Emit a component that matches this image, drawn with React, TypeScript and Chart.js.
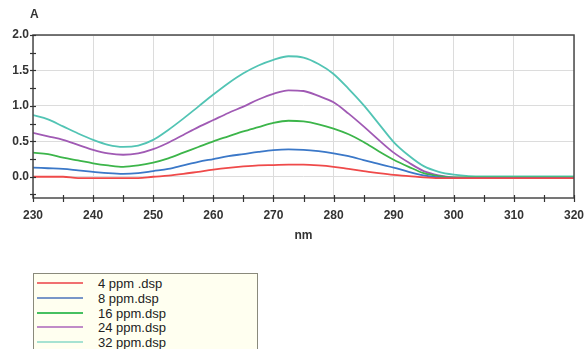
import React, { useEffect, useRef } from "react";
import { Chart, registerables } from "chart.js";

Chart.register(...registerables);

const wavelengths = [230, 232.5, 235, 237.5, 240, 242.5, 245, 247.5, 250, 252.5, 255, 257.5, 260, 262.5, 265, 267.5, 270, 272.5, 275, 277.5, 280, 282.5, 285, 287.5, 290, 292.5, 295, 297.5, 300, 302.5, 305, 310, 315, 320];

const ppm4 = [0.0, 0.0, 0.0, -0.02, -0.02, -0.02, -0.02, -0.02, 0.0, 0.015, 0.04, 0.07, 0.1, 0.125, 0.145, 0.16, 0.165, 0.17, 0.17, 0.16, 0.14, 0.11, 0.08, 0.05, 0.025, 0.01, -0.01, -0.02, -0.02, -0.02, -0.02, -0.02, -0.02, -0.02];
const ppm8 = [0.13, 0.12, 0.11, 0.09, 0.07, 0.05, 0.04, 0.05, 0.08, 0.11, 0.16, 0.21, 0.25, 0.29, 0.32, 0.35, 0.375, 0.385, 0.38, 0.36, 0.33, 0.29, 0.235, 0.18, 0.13, 0.07, 0.02, -0.01, -0.015, -0.015, -0.015, -0.015, -0.015, -0.015];
const ppm16 = [0.34, 0.32, 0.27, 0.23, 0.19, 0.16, 0.14, 0.16, 0.2, 0.26, 0.34, 0.42, 0.5, 0.57, 0.64, 0.7, 0.76, 0.79, 0.78, 0.74, 0.68, 0.6, 0.49, 0.36, 0.24, 0.14, 0.05, 0.01, -0.01, -0.01, -0.01, -0.01, -0.01, -0.01];
const ppm24 = [0.62, 0.57, 0.52, 0.45, 0.38, 0.33, 0.31, 0.33, 0.39, 0.48, 0.59, 0.7, 0.8, 0.9, 0.99, 1.09, 1.17, 1.22, 1.21, 1.14, 1.05, 0.89, 0.71, 0.52, 0.34, 0.2, 0.08, 0.02, -0.01, -0.015, -0.015, -0.015, -0.015, -0.015];
const ppm32 = [0.87, 0.81, 0.71, 0.61, 0.52, 0.45, 0.42, 0.44, 0.52, 0.66, 0.82, 0.99, 1.16, 1.32, 1.46, 1.57, 1.65, 1.7, 1.68, 1.59, 1.45, 1.24, 1.01, 0.75, 0.49, 0.3, 0.15, 0.07, 0.03, 0.01, 0.005, 0.005, 0.005, 0.005];

const seriesNames = ["4 ppm .dsp", "8 ppm.dsp", "16 ppm.dsp", "24 ppm.dsp", "32 ppm.dsp"];
const seriesValues = [ppm4, ppm8, ppm16, ppm24, ppm32];
const seriesColors = ["#ef4a4a", "#3b78c8", "#3cb54a", "#a05ab4", "#52c4b4"];
const legendColors = ["#f07070", "#7896c8", "#46c060", "#c08cc8", "#a6e2d2"];

const yLabelTicks = [0, 0.5, 1.0, 1.5, 2.0];
const yTickMarks = [-0.25, 0, 0.25, 0.5, 0.75, 1.0, 1.25, 1.5, 1.75, 2.0];
const xLabelTicks = [230, 240, 250, 260, 270, 280, 290, 300, 310, 320];
const xTickMarks = [230, 235, 240, 245, 250, 255, 260, 265, 270, 275, 280, 285, 290, 295, 300, 305, 310, 315, 320];

const FONT = '"Liberation Sans", Arial, sans-serif';

const decor = {
  id: "decor",
  afterDraw(chart: any) {
    const { ctx, chartArea: a, scales } = chart;
    const x = scales.x;
    const y = scales.y;
    ctx.save();
    ctx.strokeStyle = "#4a4a4a";
    ctx.lineWidth = 1.5;
    ctx.strokeRect(a.left, a.top, a.right - a.left, a.bottom - a.top);
    ctx.strokeStyle = "#333";
    ctx.lineWidth = 1.2;
    for (const v of yTickMarks) {
      const py = Math.round(y.getPixelForValue(v)) + 0.5;
      ctx.beginPath();
      ctx.moveTo(a.left - 3, py);
      ctx.lineTo(a.left + 3, py);
      ctx.stroke();
    }
    for (const v of xTickMarks) {
      const px = Math.round(x.getPixelForValue(v)) + 0.5;
      ctx.beginPath();
      ctx.moveTo(px, a.bottom - 3);
      ctx.lineTo(px, a.bottom + 4);
      ctx.stroke();
    }
    ctx.fillStyle = "#333";
    ctx.font = "bold 12px " + FONT;
    ctx.textAlign = "left";
    ctx.textBaseline = "middle";
    ctx.fillText("A", 30, 15);
    ctx.restore();
  },
};

export default function App() {
  const ref = useRef<HTMLCanvasElement>(null);

  useEffect(() => {
    document.body.style.margin = "0";
    const canvas = ref.current!;
    const chart = new Chart(canvas, {
      type: "line",
      data: {
        datasets: seriesValues.map((vals, i) => ({
          label: seriesNames[i],
          data: wavelengths.map((w, j) => ({ x: w, y: vals[j] })),
          borderColor: seriesColors[i],
          backgroundColor: seriesColors[i],
          borderWidth: 1.8,
          pointRadius: 0,
          cubicInterpolationMode: "monotone" as const,
          fill: false,
        })),
      },
      options: {
        responsive: false,
        maintainAspectRatio: false,
        animation: false,
        layout: { padding: { top: 35, right: 12, left: 0, bottom: 0 } },
        plugins: { legend: { display: false }, tooltip: { enabled: false } },
        scales: {
          x: {
            type: "linear",
            min: 230,
            max: 320,
            afterBuildTicks: (s: any) => {
              s.ticks = xLabelTicks.map((v) => ({ value: v }));
            },
            afterFit: (s: any) => {
              s.height = 62;
              s.paddingLeft = 0;
              s.paddingRight = 0;
            },
            grid: { color: "#dcdcdc", lineWidth: 1, drawTicks: false },
            border: { display: false },
            ticks: {
              padding: 10,
              color: "#333",
              font: { family: FONT, size: 12, weight: "bold" },
              maxRotation: 0,
              autoSkip: false,
            },
            title: {
              display: true,
              text: "nm",
              color: "#333",
              font: { family: FONT, size: 12, weight: "bold" },
              padding: { top: 0, bottom: 17 },
            },
          },
          y: {
            type: "linear",
            min: -0.3,
            max: 2.0,
            afterBuildTicks: (s: any) => {
              s.ticks = yLabelTicks.map((v) => ({ value: v }));
            },
            afterFit: (s: any) => {
              s.width = 33;
              s.paddingTop = 0;
              s.paddingBottom = 0;
            },
            grid: { color: "#dcdcdc", lineWidth: 1, drawTicks: false },
            border: { display: false },
            ticks: {
              padding: 4,
              color: "#333",
              font: { family: FONT, size: 12, weight: "bold" },
              callback: (v: any) => Number(v).toFixed(1),
            },
          },
        },
      },
      plugins: [decor],
    });
    return () => chart.destroy();
  }, []);

  return (
    <div style={{ position: "fixed", left: 0, top: 0, width: 586, height: 349, overflow: "hidden", background: "#fff" }}>
      <canvas ref={ref} width={586} height={260} style={{ position: "absolute", left: 0, top: 0, width: 586, height: 260 }} />
      <div
        style={{
          position: "absolute",
          left: 33,
          top: 273,
          width: 225,
          height: 100,
          background: "#fffff0",
          border: "1.5px solid #8a8a7c",
          boxSizing: "border-box",
        }}
      >
        {seriesNames.map((n, i) => (
          <div key={n} style={{ position: "absolute", left: 0, top: 2 + i * 14.75, height: 15, width: 220 }}>
            <div style={{ position: "absolute", left: 3, top: 6, width: 46, height: 2, background: legendColors[i] }} />
            <div
              style={{
                position: "absolute",
                left: 64,
                top: 0,
                font: "13px " + FONT,
                color: "#222",
                lineHeight: "15px",
                whiteSpace: "nowrap",
              }}
            >
              {n}
            </div>
          </div>
        ))}
      </div>
    </div>
  );
}
